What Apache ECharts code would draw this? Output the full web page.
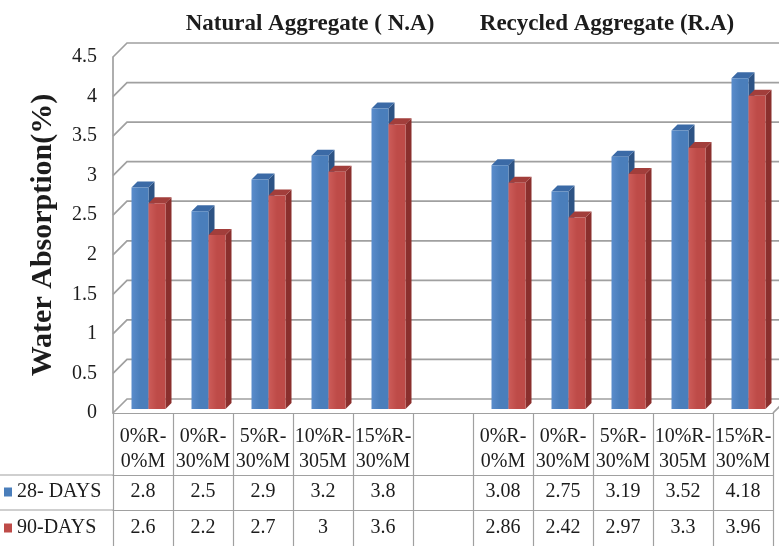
<!DOCTYPE html>
<html>
<head>
<meta charset="utf-8">
<script src="https://cdn.jsdelivr.net/npm/echarts@6/dist/echarts.min.js"></script>
<style>
  html, body { margin: 0; padding: 0; background: #ffffff; }
  #chart { width: 779px; height: 546px; }
</style>
</head>
<body>
<div id="chart"></div>
<script>
// Mix categories (blank slot separates the two aggregate groups)
const categories = [
  '0%R-\n0%M', '0%R-\n30%M', '5%R-\n30%M', '10%R-\n305M', '15%R-\n30%M',
  '',
  '0%R-\n0%M', '0%R-\n30%M', '5%R-\n30%M', '10%R-\n305M', '15%R-\n30%M'
];
// Water absorption (%) after 28 and 90 days
const days28 = [2.8, 2.5, 2.9, 3.2, 3.8, null, 3.08, 2.75, 3.19, 3.52, 4.18];
const days90 = [2.6, 2.2, 2.7, 3, 3.6, null, 2.86, 2.42, 2.97, 3.3, 3.96];
const seriesNames = ['28- DAYS', '90-DAYS'];
const yTicks = [0, 0.5, 1, 1.5, 2, 2.5, 3, 3.5, 4, 4.5];
const groupTitles = ['Natural Aggregate ( N.A)', 'Recycled Aggregate (R.A)'];
const yTitle = 'Water Absorption(%)';

const SERIF = '"Liberation Serif", "Times New Roman", serif';
const TEXT = '#1c1c1c';
const LINE = '#a0a0a0';
const DEPTH = 14;       // back-wall offset of the 3D frame

const palette = [
  { light: '#5a8ccb', front: '#4a7ebb', top: '#3b6aa6', side: '#2d5384' },
  { light: '#cc5c59', front: '#be4b48', top: '#a23e3b', side: '#8a2f2d' }
];

const chart = echarts.init(document.getElementById('chart'), null, { renderer: 'canvas' });

// Back wall gridlines with the diagonal connector to the front axis
function wallRenderer(params, api) {
  const v = api.value(1);
  const y = api.coord([0, v])[1];
  const cs = params.coordSys;
  const x0 = cs.x, x1 = cs.x + cs.width;
  const style = { stroke: LINE, lineWidth: 1.7, fill: null };
  const children = [{
    type: 'polyline',
    shape: { points: [[x0, y], [x0 + DEPTH, y - DEPTH], [x1 + DEPTH, y - DEPTH]] },
    style: style
  }];
  if (v === 0) {
    children.push({ type: 'line', shape: { x1: x1, y1: y, x2: x1 + DEPTH, y2: y - DEPTH }, style: style });
  }
  return { type: 'group', children: children };
}

// 3D column: front face, top face and right side face
function barRenderer(slot) {
  const c = palette[slot];
  return function (params, api) {
    const i = api.value(0), v = api.value(1);
    if (v == null || isNaN(v)) return;
    const base = api.coord([i, 0]);
    const top = api.coord([i, v]);
    const w = 17, dx = 6, dy = 6, lift = 4, shift = 5.5;
    const xl = base[0] + shift + (slot === 0 ? -w : 0);
    const xr = xl + w;
    const yb = base[1] - lift, yt = top[1] - lift;
    return {
      type: 'group',
      children: [
        { type: 'polygon', shape: { points: [[xr, yt], [xr + dx, yt - dy], [xr + dx, yb - dy], [xr, yb]] },
          style: { fill: c.side } },
        { type: 'polygon', shape: { points: [[xl, yt], [xr, yt], [xr + dx, yt - dy], [xl + dx, yt - dy]] },
          style: { fill: c.top } },
        { type: 'rect', shape: { x: xl, y: yt, width: w, height: yb - yt },
          style: { fill: new echarts.graphic.LinearGradient(0, 0, 1, 0, [
            { offset: 0, color: c.light }, { offset: 0.5, color: c.front }, { offset: 1, color: c.front }
          ]) } }
      ]
    };
  };
}

function valueRow(values) {
  return function (val, idx) {
    const v = values[idx];
    return v == null ? '' : String(v);
  };
}

const tableAxis = (offset, values, margin) => ({
  type: 'category',
  data: categories,
  position: 'bottom',
  offset: offset,
  axisLine: { show: true, lineStyle: { color: LINE, width: 1.2 } },
  axisTick: { show: false },
  axisLabel: {
    interval: 0, margin: margin, formatter: valueRow(values),
    fontFamily: SERIF, fontSize: 20, color: TEXT
  }
});

const legendRow = (name, top) => ({
  data: [name],
  left: 4, top: top,
  icon: 'rect',
  itemWidth: 8, itemHeight: 9,
  selectedMode: false,
  padding: 0,
  textStyle: { fontFamily: SERIF, fontSize: 20, color: TEXT, lineHeight: 20 }
});

const option = {
  animation: false,
  backgroundColor: '#ffffff',
  grid: { left: 113, right: 6, top: 57, bottom: 133, containLabel: false },
  legend: [
    legendRow(seriesNames[0], 482),
    legendRow(seriesNames[1], 518)
  ],
  xAxis: [
    {
      type: 'category',
      data: categories,
      position: 'bottom',
      axisLine: { show: true, lineStyle: { color: LINE, width: 1.2 } },
      axisTick: { show: true, interval: 0, length: 133, lineStyle: { color: LINE, width: 1.2 } },
      axisLabel: {
        interval: 0, margin: 11,
        fontFamily: SERIF, fontSize: 20, lineHeight: 25, color: TEXT
      },
      splitLine: { show: false }
    },
    tableAxis(62, days28, 7),
    tableAxis(97, days90, 8)
  ],
  yAxis: {
    type: 'value',
    min: yTicks[0],
    max: yTicks[yTicks.length - 1],
    interval: yTicks[1] - yTicks[0],
    name: yTitle,
    nameLocation: 'middle',
    nameRotate: 90,
    nameGap: 55,
    nameTextStyle: { fontFamily: SERIF, fontSize: 30, fontWeight: 'bold', color: TEXT },
    axisLine: { show: true, lineStyle: { color: LINE, width: 1.7 } },
    axisTick: { show: false },
    splitLine: { show: false },
    axisLabel: {
      margin: 16, fontFamily: SERIF, fontSize: 20, color: TEXT,
      padding: [6, 0, 0, 0]
    }
  },
  series: [
    {
      name: 'wall',
      type: 'custom',
      renderItem: wallRenderer,
      clip: false,
      silent: true,
      encode: { x: 0, y: 1 },
      data: yTicks.map(v => [0, v]),
      z: 1
    },
    {
      name: seriesNames[0],
      type: 'custom',
      renderItem: barRenderer(0),
      clip: false,
      itemStyle: { color: palette[0].front },
      encode: { x: 0, y: 1 },
      data: days28.map((v, i) => [i, v]),
      z: 2
    },
    {
      name: seriesNames[1],
      type: 'custom',
      renderItem: barRenderer(1),
      clip: false,
      itemStyle: { color: palette[1].front },
      encode: { x: 0, y: 1 },
      data: days90.map((v, i) => [i, v]),
      z: 2
    }
  ],
  graphic: [
    { type: 'text', x: 310, y: 24,
      style: { text: groupTitles[0], font: 'bold 23px ' + SERIF, fill: TEXT, textAlign: 'center', textVerticalAlign: 'middle' } },
    { type: 'text', x: 607, y: 24,
      style: { text: groupTitles[1], font: 'bold 23px ' + SERIF, fill: TEXT, textAlign: 'center', textVerticalAlign: 'middle' } },
    // row separators of the data table continued under the legend keys
    { type: 'line', shape: { x1: 0, y1: 475, x2: 113, y2: 475 }, style: { stroke: LINE, lineWidth: 1.2 } },
    { type: 'line', shape: { x1: 0, y1: 510, x2: 113, y2: 510 }, style: { stroke: LINE, lineWidth: 1.2 } }
  ]
};

chart.setOption(option);
</script>
</body>
</html>
